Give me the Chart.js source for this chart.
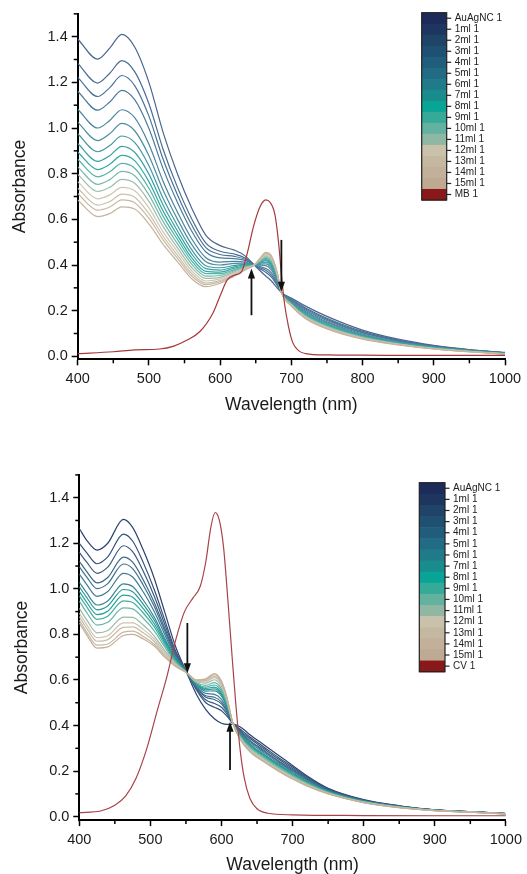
<!DOCTYPE html>
<html><head><meta charset="utf-8">
<script src="https://cdn.jsdelivr.net/npm/chart.js@4.4.0/dist/chart.umd.min.js"></script>
<style>
html,body{margin:0;padding:0;background:#fff;overflow:hidden;width:527px;height:874px}
canvas{position:absolute;left:0}
#c1{top:0}
#c2{top:440px}
</style></head><body>
<canvas id="c1" width="527" height="430"></canvas>
<canvas id="c2" width="527" height="440"></canvas>
<script>
// ---------------- DATA ----------------
const seriesNames = ['AuAgNC 1','1ml 1','2ml 1','3ml 1','4ml 1','5ml 1','6ml 1','7ml 1','8ml 1','9ml 1','10ml 1','11ml 1','12ml 1','13ml 1','14ml 1','15ml 1'];
const xTicks = [400,500,600,700,800,900,1000];
const xMinorTicks = [450,550,650,750,850,950];
const yTicks = [0,0.2,0.4,0.6,0.8,1.0,1.2,1.4];
const yMinorTicks = [0.1,0.3,0.5,0.7,0.9,1.1,1.3,1.5];

// Panel 1 (MB)
const mbWavelength = [400,428,445,462,480,500,520,540,560,580,600,620,635,648,656,664,672,680,686,700,720,750,800,850,900,950,1000];
const mb_AuAgNC = [1.39,1.302,1.35,1.41,1.355,1.20,0.98,0.80,0.65,0.53,0.485,0.465,0.44,0.40,0.375,0.352,0.33,0.30,0.28,0.255,0.22,0.175,0.115,0.075,0.048,0.03,0.017];
const mb_1ml = [1.283,1.197,1.240,1.295,1.247,1.106,0.906,0.741,0.603,0.496,0.460,0.448,0.431,0.40,0.383,0.368,0.347,0.311,0.28,0.250,0.212,0.167,0.109,0.071,0.046,0.028,0.016];
const mb_2ml = [1.222,1.138,1.177,1.230,1.186,1.052,0.863,0.708,0.576,0.476,0.446,0.438,0.425,0.40,0.388,0.377,0.356,0.317,0.28,0.247,0.207,0.162,0.105,0.069,0.044,0.028,0.015];
const mb_3ml = [1.161,1.078,1.114,1.165,1.124,0.998,0.821,0.675,0.549,0.457,0.431,0.428,0.420,0.40,0.393,0.385,0.366,0.323,0.28,0.244,0.202,0.157,0.102,0.067,0.043,0.027,0.015];
const mb_4ml = [1.082,1.000,1.033,1.080,1.045,0.929,0.766,0.632,0.515,0.432,0.413,0.416,0.413,0.40,0.399,0.397,0.378,0.331,0.28,0.240,0.196,0.151,0.098,0.064,0.041,0.026,0.014];
const mb_5ml = [1.026,0.945,0.975,1.020,0.988,0.879,0.727,0.601,0.490,0.414,0.400,0.407,0.408,0.40,0.403,0.405,0.387,0.336,0.28,0.237,0.192,0.147,0.094,0.062,0.040,0.025,0.013];
const mb_6ml = [0.975,0.896,0.923,0.965,0.937,0.835,0.691,0.573,0.467,0.397,0.388,0.398,0.403,0.40,0.407,0.413,0.395,0.341,0.28,0.234,0.188,0.143,0.091,0.060,0.039,0.024,0.013];
const mb_7ml = [0.932,0.854,0.879,0.920,0.894,0.798,0.662,0.550,0.449,0.384,0.378,0.392,0.400,0.40,0.411,0.419,0.401,0.345,0.28,0.232,0.184,0.139,0.089,0.059,0.038,0.024,0.012];
const mb_8ml = [0.895,0.818,0.841,0.880,0.857,0.765,0.636,0.530,0.432,0.372,0.369,0.386,0.396,0.40,0.414,0.424,0.407,0.349,0.28,0.230,0.181,0.136,0.087,0.057,0.037,0.023,0.012];
const mb_9ml = [0.863,0.786,0.808,0.845,0.824,0.736,0.613,0.512,0.418,0.362,0.362,0.380,0.394,0.40,0.416,0.429,0.412,0.352,0.28,0.229,0.179,0.134,0.085,0.056,0.036,0.023,0.012];
const mb_10ml = [0.830,0.753,0.774,0.810,0.791,0.707,0.590,0.494,0.404,0.351,0.354,0.375,0.391,0.40,0.419,0.434,0.417,0.356,0.28,0.227,0.176,0.131,0.083,0.055,0.035,0.022,0.011];
const mb_11ml = [0.797,0.722,0.740,0.775,0.758,0.679,0.568,0.476,0.389,0.341,0.346,0.370,0.388,0.40,0.421,0.439,0.423,0.359,0.28,0.226,0.174,0.129,0.081,0.054,0.035,0.022,0.011];
const mb_12ml = [0.765,0.690,0.707,0.740,0.725,0.650,0.545,0.459,0.375,0.330,0.339,0.365,0.385,0.40,0.424,0.443,0.428,0.362,0.28,0.224,0.171,0.126,0.080,0.053,0.034,0.021,0.011];
const mb_13ml = [0.736,0.662,0.678,0.710,0.697,0.625,0.526,0.443,0.363,0.321,0.332,0.360,0.383,0.40,0.426,0.447,0.432,0.365,0.28,0.223,0.169,0.124,0.078,0.052,0.033,0.021,0.011];
const mb_14ml = [0.713,0.640,0.654,0.685,0.673,0.605,0.510,0.430,0.352,0.314,0.327,0.357,0.380,0.40,0.428,0.451,0.436,0.367,0.28,0.221,0.167,0.122,0.077,0.051,0.033,0.020,0.010];
const mb_15ml = [0.685,0.612,0.625,0.655,0.645,0.580,0.490,0.415,0.340,0.305,0.320,0.352,0.378,0.40,0.430,0.455,0.440,0.370,0.28,0.220,0.165,0.120,0.075,0.050,0.032,0.020,0.010];
const mbDyeWavelength = [400,450,480,515,535,553,572,590,600,610,620,630,638,647,656,664,670,677,682,686,690,696,702,710,720,750,800,900,1000];
const mbDye = [0.012,0.020,0.028,0.032,0.045,0.070,0.110,0.190,0.265,0.335,0.355,0.370,0.450,0.570,0.655,0.685,0.675,0.620,0.500,0.360,0.240,0.130,0.060,0.025,0.012,0.006,0.005,0.004,0.004];
const mbArrowX = [644, 686];
const mbArrowFrom = [0.18, 0.51];
const mbArrowTo = [0.385, 0.283];

// Panel 2 (CV)
const cvWavelength = [400,410,425,440,462,475,490,505,520,535,552,565,578,590,600,608,616,626,640,660,680,700,720,750,800,850,900,950,1000];
const cv_AuAgNC = [1.265,1.215,1.17,1.20,1.305,1.27,1.17,1.05,0.90,0.75,0.625,0.535,0.47,0.43,0.41,0.405,0.405,0.395,0.36,0.315,0.27,0.225,0.18,0.125,0.075,0.048,0.03,0.022,0.014];
const cv_1ml = [1.2,1.16,1.11,1.14,1.24,1.21,1.115,1.0,0.865,0.73,0.63,0.555,0.50,0.48,0.465,0.44,0.41,0.385,0.35,0.305,0.26,0.218,0.175,0.122,0.073,0.047,0.03,0.022,0.014];
const cv_2ml = [1.160,1.119,1.068,1.095,1.189,1.163,1.077,0.971,0.846,0.722,0.63,0.560,0.512,0.497,0.480,0.449,0.41,0.380,0.343,0.298,0.253,0.212,0.170,0.119,0.072,0.046,0.030,0.022,0.014];
const cv_3ml = [1.121,1.078,1.026,1.050,1.139,1.117,1.039,0.943,0.828,0.714,0.63,0.565,0.524,0.514,0.495,0.458,0.41,0.375,0.335,0.290,0.246,0.206,0.166,0.117,0.071,0.045,0.029,0.022,0.014];
const cv_4ml = [1.097,1.054,1.001,1.023,1.109,1.089,1.016,0.926,0.816,0.709,0.63,0.568,0.531,0.524,0.503,0.464,0.41,0.372,0.331,0.286,0.242,0.202,0.163,0.116,0.070,0.045,0.029,0.021,0.013];
const cv_5ml = [1.065,1.021,0.967,0.988,1.068,1.052,0.986,0.903,0.801,0.703,0.63,0.572,0.541,0.537,0.515,0.471,0.41,0.368,0.325,0.280,0.237,0.198,0.160,0.114,0.069,0.044,0.029,0.021,0.013];
const cv_6ml = [1.029,0.984,0.929,0.947,1.022,1.010,0.951,0.878,0.784,0.696,0.63,0.577,0.551,0.552,0.529,0.479,0.41,0.363,0.318,0.273,0.231,0.192,0.155,0.111,0.068,0.044,0.029,0.021,0.013];
const cv_7ml = [1.009,0.964,0.908,0.925,0.997,0.987,0.932,0.864,0.775,0.692,0.63,0.580,0.557,0.561,0.536,0.484,0.41,0.360,0.315,0.270,0.227,0.189,0.153,0.110,0.067,0.043,0.028,0.021,0.013];
const cv_8ml = [0.989,0.943,0.887,0.902,0.972,0.963,0.913,0.849,0.766,0.688,0.63,0.582,0.563,0.569,0.543,0.488,0.41,0.358,0.311,0.266,0.224,0.186,0.151,0.109,0.066,0.043,0.028,0.021,0.013];
const cv_9ml = [0.969,0.923,0.866,0.880,0.947,0.940,0.894,0.835,0.756,0.684,0.63,0.585,0.569,0.578,0.551,0.493,0.41,0.355,0.307,0.262,0.220,0.183,0.149,0.108,0.066,0.042,0.028,0.021,0.013];
const cv_10ml = [0.946,0.898,0.841,0.853,0.916,0.912,0.871,0.818,0.745,0.679,0.63,0.588,0.576,0.588,0.560,0.498,0.41,0.352,0.303,0.258,0.216,0.179,0.146,0.106,0.065,0.042,0.028,0.021,0.013];
const cv_11ml = [0.914,0.866,0.807,0.817,0.876,0.875,0.841,0.795,0.730,0.673,0.63,0.592,0.586,0.601,0.571,0.505,0.41,0.348,0.297,0.252,0.211,0.175,0.142,0.104,0.064,0.041,0.028,0.020,0.012];
const cv_12ml = [0.894,0.845,0.786,0.794,0.851,0.851,0.822,0.781,0.721,0.669,0.63,0.594,0.592,0.610,0.579,0.510,0.41,0.346,0.293,0.248,0.207,0.172,0.140,0.103,0.063,0.041,0.027,0.020,0.012];
const cv_13ml = [0.878,0.829,0.770,0.777,0.831,0.833,0.807,0.770,0.713,0.666,0.63,0.596,0.597,0.616,0.585,0.514,0.41,0.344,0.290,0.245,0.205,0.169,0.138,0.102,0.063,0.041,0.027,0.020,0.012];
const cv_14ml = [0.862,0.812,0.753,0.758,0.810,0.814,0.791,0.758,0.706,0.662,0.63,0.598,0.601,0.623,0.591,0.517,0.41,0.342,0.287,0.242,0.202,0.167,0.136,0.101,0.062,0.040,0.027,0.020,0.012];
const cv_15ml = [0.85,0.80,0.74,0.745,0.795,0.80,0.78,0.75,0.70,0.66,0.63,0.60,0.605,0.628,0.595,0.52,0.41,0.34,0.285,0.24,0.20,0.165,0.135,0.10,0.062,0.04,0.027,0.02,0.012];
const cvDyeWavelength = [400,430,450,465,480,495,510,522,536,548,560,570,578,585,591,597,603,609,615,620,626,632,640,650,665,700,800,900,1000];
const cvDye = [0.018,0.025,0.05,0.09,0.17,0.30,0.47,0.60,0.78,0.90,0.96,1.01,1.12,1.27,1.335,1.30,1.18,0.95,0.70,0.50,0.30,0.17,0.08,0.035,0.015,0.008,0.005,0.004,0.004];
const cvArrowX = [552, 612];
const cvArrowFrom = [0.85, 0.205];
const cvArrowTo = [0.629, 0.417];

// ---------------- STYLE ----------------
const barColors = ['#1c2b5a','#1e3560','#1f4468','#1f5072','#205c7c','#216b84','#1f7b8a','#1a8c8e','#08a596','#35aa98','#62b29f','#8fb7a4','#c9c1aa','#c5b8a1','#c2b09a','#beaa93'];
const dyeBarColor = '#8a1818';
const topLineColors = ['#4a6690','#4a6c92','#4a7496','#4a7c9a','#4a859e','#4a8ea1','#4397a2','#3aa1a2','#2eaba2','#55b2a5','#7ab8aa','#9fbdae','#cfc7b3','#cbc0ab','#c8b9a4','#c5b39e'];
const botLineColors = ['#2c4270','#345078','#395b80','#3b6686','#3d718d','#3d7c93','#388895','#2f9597','#20a59a','#45ad9e','#6db5a5','#98bbaa','#cdc5b0','#c9bda8','#c6b6a0','#c3b09a'];
const topDyeLine = '#a43a3c';
const botDyeLine = '#a8434a';
const FONT = '"Liberation Sans", Arial, Helvetica, sans-serif';

const minorTickPlugin = {
  id: 'minorTicks',
  afterDraw(chart, args, opts) {
    const ctx = chart.ctx, xs = chart.scales.x, ys = chart.scales.y;
    ctx.save(); ctx.strokeStyle = '#000'; ctx.lineWidth = 1.5;
    opts.x.forEach(v => { const p = xs.getPixelForValue(v); ctx.beginPath(); ctx.moveTo(p, xs.top); ctx.lineTo(p, xs.top + 4); ctx.stroke(); });
    opts.y.forEach(v => { const p = ys.getPixelForValue(v); ctx.beginPath(); ctx.moveTo(ys.right - 4, p); ctx.lineTo(ys.right, p); ctx.stroke(); });
    ctx.restore();
  }
};
const arrowPlugin = {
  id: 'arrows',
  afterDatasetsDraw(chart, args, opts) {
    const ctx = chart.ctx, xs = chart.scales.x, ys = chart.scales.y;
    ctx.save(); ctx.strokeStyle = '#111'; ctx.fillStyle = '#111'; ctx.lineWidth = 1.8;
    opts.x.forEach((wx, i) => {
      const x = xs.getPixelForValue(wx), y0 = ys.getPixelForValue(opts.from[i]), y1 = ys.getPixelForValue(opts.to[i]);
      const dir = Math.sign(y1 - y0), head = 10, hw = 3.6;
      ctx.beginPath(); ctx.moveTo(x, y0); ctx.lineTo(x, y1 - dir * head * 0.7); ctx.stroke();
      ctx.beginPath(); ctx.moveTo(x, y1); ctx.lineTo(x - hw, y1 - dir * head); ctx.lineTo(x + hw, y1 - dir * head); ctx.closePath(); ctx.fill();
    });
    ctx.restore();
  }
};
const colorbarPlugin = {
  id: 'colorbar',
  afterDraw(chart, args, opts) {
    const ctx = chart.ctx, ds = chart.data.datasets, n = ds.length;
    const {x, y, w, h} = opts; const ch = h / n;
    ctx.save();
    ds.forEach((d, i) => { ctx.fillStyle = d.barColor; ctx.fillRect(x, y + i * ch, w, ch + 0.6); });
    ctx.strokeStyle = '#222'; ctx.lineWidth = 1.2; ctx.strokeRect(x, y, w, h);
    ctx.font = '10px ' + FONT; ctx.fillStyle = '#222'; ctx.textBaseline = 'middle'; ctx.textAlign = 'left';
    ds.forEach((d, i) => {
      const cy = y + (i + 0.5) * ch;
      ctx.beginPath(); ctx.moveTo(x + w, cy); ctx.lineTo(x + w + 4.5, cy); ctx.stroke();
      ctx.fillText(d.label, x + w + 8, cy);
    });
    ctx.restore();
  }
};

function makeChart(id, cfg) {
  const datasets = cfg.series.map((vals, i) => ({
    label: seriesNames[i],
    data: cfg.wl.map((x, j) => ({x: x, y: vals[j]})),
    borderColor: cfg.lineColors[i], barColor: barColors[i], borderWidth: 1.2, pointRadius: 0,
    cubicInterpolationMode: 'monotone', order: 20 - i
  }));
  datasets.push({
    label: cfg.dyeName,
    data: cfg.dyeWl.map((x, j) => ({x: x, y: cfg.dye[j]})),
    borderColor: cfg.dyeLine, barColor: dyeBarColor, borderWidth: 1.2, pointRadius: 0,
    cubicInterpolationMode: 'monotone', order: 0
  });
  return new Chart(document.getElementById(id), {
    type: 'line',
    data: {datasets},
    plugins: [minorTickPlugin, arrowPlugin, colorbarPlugin],
    options: {
      responsive: false, animation: false, devicePixelRatio: 1,
      layout: {padding: {left: 0, right: cfg.padRight, top: cfg.padTop, bottom: 0}},
      plugins: {
        legend: {display: false}, tooltip: {enabled: false},
        minorTicks: {x: xMinorTicks, y: yMinorTicks},
        arrows: {x: cfg.arrowX, from: cfg.arrowFrom, to: cfg.arrowTo},
        colorbar: cfg.bar
      },
      scales: {
        x: {
          type: 'linear', min: 400, max: 1000,
          afterBuildTicks: s => { s.ticks = xTicks.map(v => ({value: v})); },
          afterFit: s => { s.height = cfg.xHeight; },
          grid: {display: true, drawOnChartArea: false, drawTicks: true, tickLength: 6, tickWidth: 1.5, tickColor: '#000'},
          border: {display: true, color: '#000', width: 2},
          ticks: {color: '#1a1a1a', font: {family: FONT, size: 14.5}, padding: 5, maxRotation: 0, callback: v => String(v)},
          title: {display: true, text: 'Wavelength (nm)', color: '#1a1a1a', font: {family: FONT, size: 17.5}, padding: {top: 0, bottom: cfg.xTitlePad}}
        },
        y: {
          type: 'linear', min: cfg.yMin, max: 1.5,
          afterBuildTicks: s => { s.ticks = yTicks.map(v => ({value: v})); },
          afterFit: s => { s.width = cfg.yWidth; },
          grid: {display: true, drawOnChartArea: false, drawTicks: true, tickLength: 6, tickWidth: 1.5, tickColor: '#000'},
          border: {display: true, color: '#000', width: 2},
          ticks: {color: '#1a1a1a', font: {family: FONT, size: 14.5}, padding: 4, callback: v => v.toFixed(1)},
          title: {display: true, text: 'Absorbance', color: '#1a1a1a', font: {family: FONT, size: 17.5}, padding: {top: cfg.yTitlePad, bottom: 0}}
        }
      }
    }
  });
}

makeChart('c1', {
  wl: mbWavelength,
  series: [mb_AuAgNC, mb_1ml, mb_2ml, mb_3ml, mb_4ml, mb_5ml, mb_6ml, mb_7ml, mb_8ml, mb_9ml, mb_10ml, mb_11ml, mb_12ml, mb_13ml, mb_14ml, mb_15ml],
  lineColors: topLineColors, dyeLine: topDyeLine,
  dyeName: 'MB 1', dyeWl: mbDyeWavelength, dye: mbDye,
  arrowX: mbArrowX, arrowFrom: mbArrowFrom, arrowTo: mbArrowTo,
  padRight: 22, padTop: 13.85, xHeight: 70.7, yWidth: 77.7, yMin: -0.013,
  xTitlePad: 14.5, yTitlePad: 10,
  bar: {x: 421.7, y: 12.7, w: 25, h: 187.3}
});
makeChart('c2', {
  wl: cvWavelength,
  series: [cv_AuAgNC, cv_1ml, cv_2ml, cv_3ml, cv_4ml, cv_5ml, cv_6ml, cv_7ml, cv_8ml, cv_9ml, cv_10ml, cv_11ml, cv_12ml, cv_13ml, cv_14ml, cv_15ml],
  lineColors: botLineColors, dyeLine: botDyeLine,
  dyeName: 'CV 1', dyeWl: cvDyeWavelength, dye: cvDye,
  arrowX: cvArrowX, arrowFrom: cvArrowFrom, arrowTo: cvArrowTo,
  padRight: 21, padTop: 34.9, xHeight: 59.9, yWidth: 79.3, yMin: -0.015,
  xTitlePad: 4.5, yTitlePad: 11.5,
  bar: {x: 419.3, y: 42.7, w: 25.7, h: 189}
});
</script>
</body></html>
